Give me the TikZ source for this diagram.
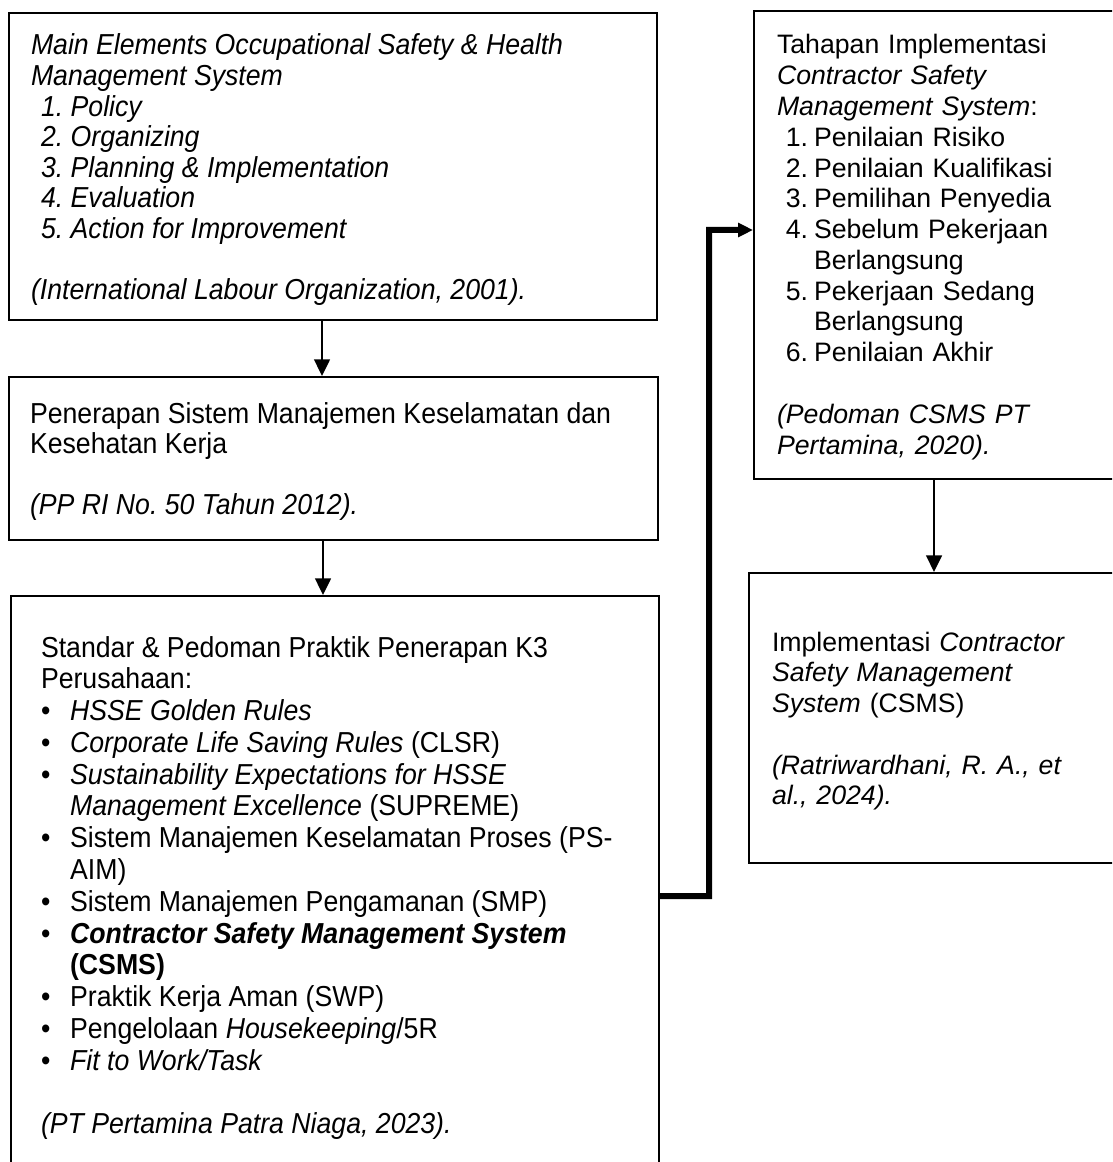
\documentclass[tikz,border=0pt]{standalone}
\usepackage{fontspec}
\setmainfont{Liberation Sans}
\newfontfamily\tallsans[FakeStretch=0.923]{Liberation Sans}
\usetikzlibrary{arrows.meta}
\frenchspacing

% bullet item and its continuation indent
\newcommand\itm{\makebox[13.1pt][l]{\textbullet}}
\newcommand\cont{\hspace*{13.1pt}}
\newcommand\wordgap{\spaceskip=3.34pt\relax}

\tikzset{
  box/.style={draw, line width=0.9pt, anchor=north west, inner ysep=0pt, align=left},
  leftbox/.style={box, font=\tallsans\fontsize{13}{13.75}\selectfont,
    execute at begin node=\wordgap},
  rightbox/.style={box, font=\fontsize{12}{13.85}\selectfont},
  flow/.style={line width=1.3pt, -{Triangle[length=7.5pt,width=7pt]}},
  link/.style={line width=2.7pt, line join=miter, -{Triangle[length=6.75pt,width=6.2pt]}}
}

\begin{document}
\begin{tikzpicture}[x=0.45pt, y=-0.45pt]
  \useasboundingbox (0,0) rectangle (1112,1162);
  \clip (0,0) rectangle (1112,1162);

  % left column
  \node [leftbox, inner xsep=9.9pt, text width=271.8pt,
         text height=18.9pt, text depth=119.25pt] (b1) at (8,12)
    {\itshape Main Elements Occupational Safety \& Health\\
     \itshape Management System\\
     \hspace*{4.5pt}\itshape 1. Policy\\
     \hspace*{4.5pt}\itshape 2. Organizing\\
     \hspace*{4.5pt}\itshape 3. Planning \& Implementation\\
     \hspace*{4.5pt}\itshape 4. Evaluation\\
     \hspace*{4.5pt}\itshape 5. Action for Improvement\\[13.75pt]
     \itshape (International Labour Organization, 2001).};

  \node [leftbox, inner xsep=9.45pt, text width=273.15pt,
         text height=20.7pt, text depth=52.65pt] (b2) at (8,376)
    {Penerapan Sistem Manajemen Keselamatan dan\\
     Kesehatan Kerja\\[13.75pt]
     \textit{(PP RI No. 50 Tahun 2012).}};

  \node [leftbox, font=\tallsans\fontsize{13}{14.3}\selectfont,
         inner xsep=13.5pt, text width=264.6pt,
         text height=27.45pt, text depth=242.55pt] (b3) at (10,595)
    {Standar \& Pedoman Praktik Penerapan K3\\
     Perusahaan:\\
     \itm\textit{HSSE Golden Rules}\\
     \itm\textit{Corporate Life Saving Rules} (CLSR)\\
     \itm\textit{Sustainability Expectations for HSSE}\\
     \cont\textit{Management Excellence} (SUPREME)\\
     \itm Sistem Manajemen Keselamatan Proses (PS-\\
     \cont AIM)\\
     \itm Sistem Manajemen Pengamanan (SMP)\\
     \itm\textbf{\textit{Contractor Safety Management System}}\\
     \cont\textbf{(CSMS)}\\
     \itm Praktik Kerja Aman (SWP)\\
     \itm Pengelolaan \textit{Housekeeping}/5R\\
     \itm\textit{Fit to Work/Task}\\[14.3pt]
     \textit{(PT Pertamina Patra Niaga, 2023).}};

  % right column
  \node [rightbox, inner xsep=10.35pt, text width=150.3pt,
         text height=19.35pt, text depth=191.25pt] (b4) at (753,10)
    {Tahapan Implementasi\\
     \textit{Contractor Safety}\\
     \textit{Management System}:\\
     \hspace*{4pt}\makebox[12.65pt][l]{1.}Penilaian Risiko\\
     \hspace*{4pt}\makebox[12.65pt][l]{2.}Penilaian Kualifikasi\\
     \hspace*{4pt}\makebox[12.65pt][l]{3.}Pemilihan Penyedia\\
     \hspace*{4pt}\makebox[12.65pt][l]{4.}Sebelum Pekerjaan\\
     \hspace*{16.65pt}Berlangsung\\
     \hspace*{4pt}\makebox[12.65pt][l]{5.}Pekerjaan Sedang\\
     \hspace*{16.65pt}Berlangsung\\
     \hspace*{4pt}\makebox[12.65pt][l]{6.}Penilaian Akhir\\[13.85pt]
     \textit{(Pedoman CSMS PT}\\
     \textit{Pertamina, 2020).}};

  \node [rightbox, inner xsep=10.35pt, text width=152.55pt,
         text height=35.1pt, text depth=95.4pt] (b5) at (748,572)
    {Implementasi \textit{Contractor}\\
     \textit{Safety Management}\\
     \textit{System} (CSMS)\\[13.85pt]
     \textit{(Ratriwardhani, R. A., et}\\
     \textit{al., 2024).}};

  % connectors
  \draw [flow] ([xshift=141.3pt]b1.south west) coordinate (a1) -- (a1 |- b2.north);
  \draw [flow] ([xshift=141.75pt]b2.south west) coordinate (a2) -- (a2 |- b3.north);
  \draw [flow] ([xshift=81.45pt]b4.south west) coordinate (a3) -- (a3 |- b5.north);
  \coordinate (bend) at (709,230);
  \draw [link] ([yshift=-135.45pt]b3.north east) -| (bend) -- ([yshift=-99pt]b4.north west);
\end{tikzpicture}
\end{document}
